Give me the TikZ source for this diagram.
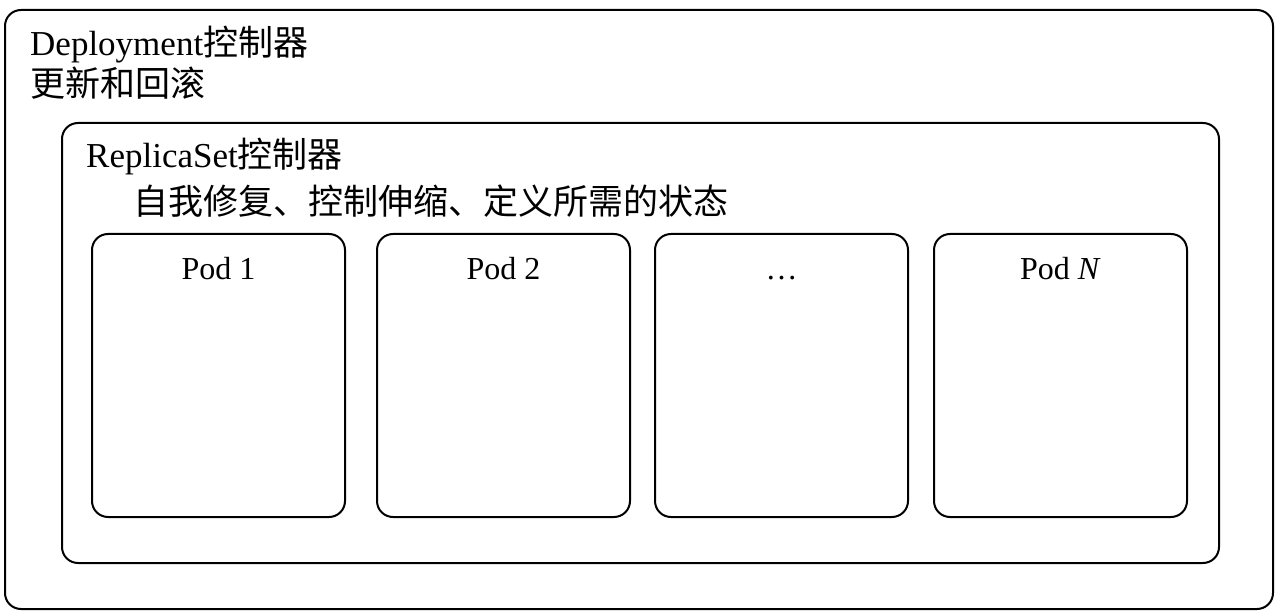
\documentclass[tikz,border=0pt]{standalone}
\usepackage{fontspec}
\setmainfont{Liberation Serif}
\newfontfamily\cjk{Noto Sans CJK SC}
\tikzset{
	box/.style={draw, line width=2pt, rounded corners=16pt},
	lbl/.style={anchor=base west, inner sep=0pt, font=\fontsize{35}{40}\selectfont},
	podlbl/.style={anchor=base, inner sep=0pt, font=\fontsize{32}{38}\selectfont}
}
\begin{document}
\begin{tikzpicture}[x=1pt, y=-1pt]
	\useasboundingbox (0,0) rectangle (1278,612);
	
	% outer and inner controllers
	\draw[box] (5,10) rectangle (1273,609);
	\draw[box] (62,123) rectangle (1219,563);
	
	\node[lbl] (deploy) at (30,56) {Deployment{\cjk 控制器}};
	\node[lbl] (deployjob) at (30,97) {\cjk 更新和回滚};
	\node[lbl] (rs) at (86,168) {ReplicaSet{\cjk 控制器}};
	\node[lbl] (rsjob) at (133,215) {\cjk 自我修复、控制伸缩、定义所需的状态};
	
	% pods
	\foreach \x/\name [count=\i] in {92/Pod 1, 377/Pod 2, 655/\dots, 934/Pod \textit{N}} {
		\draw[box] (\x,234) rectangle ++(253,283);
		\node[podlbl] (pod\i) at (\x+126.5,280) {\name};
	}
\end{tikzpicture}
\end{document}
